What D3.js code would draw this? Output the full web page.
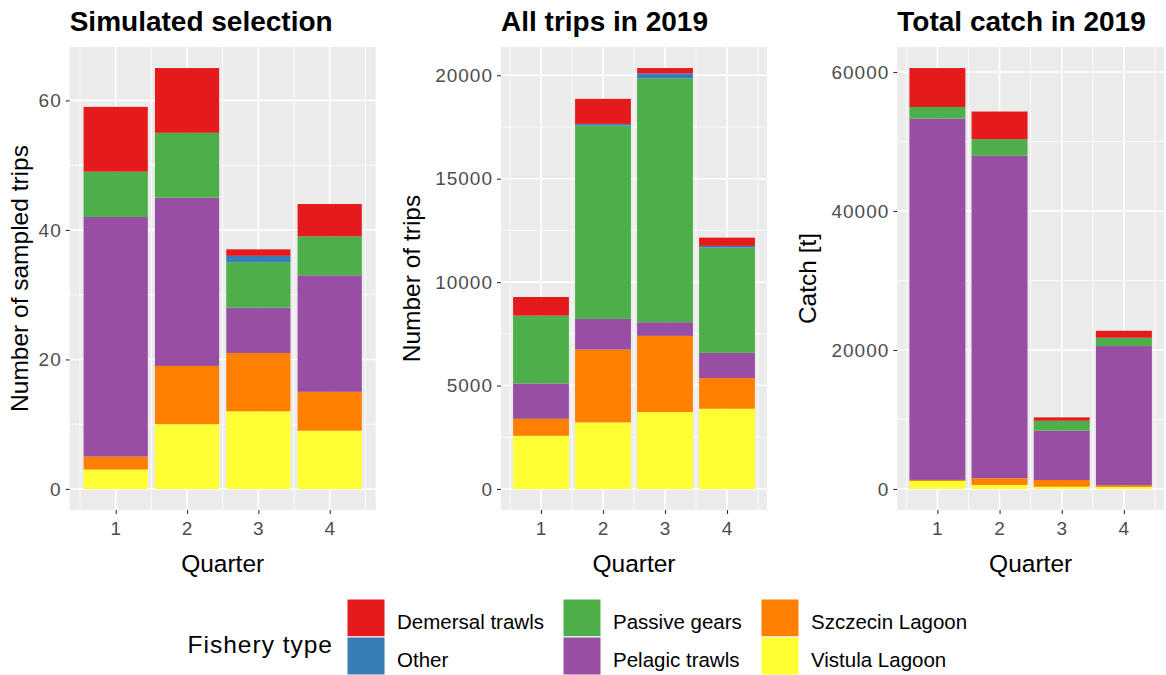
<!DOCTYPE html>
<html>
<head>
<meta charset="utf-8">
<script src="https://cdn.jsdelivr.net/npm/d3@7"></script>
<style>
  html, body { margin: 0; padding: 0; background: #ffffff; }
  svg { display: block; font-family: "Liberation Sans", Arial, sans-serif; }
</style>
</head>
<body>
<svg id="chart" width="1166" height="675"></svg>
<script>
// ---- data ----
const quarters = [1, 2, 3, 4];
// stacking order bottom -> top
const fisheryTypes = ["Vistula Lagoon", "Szczecin Lagoon", "Pelagic trawls", "Passive gears", "Other", "Demersal trawls"];
const legendOrder = ["Demersal trawls", "Other", "Passive gears", "Pelagic trawls", "Szczecin Lagoon", "Vistula Lagoon"];
const typeColors = ["#FFFF33", "#FF7F00", "#984EA3", "#4DAF4A", "#377EB8", "#E41A1C"];

// Simulated selection (number of sampled trips) per quarter
const sampledVistula  = [3, 10, 12, 9];
const sampledSzczecin = [2, 9, 9, 6];
const sampledPelagic  = [37, 26, 7, 18];
const sampledPassive  = [7, 10, 7, 6];
const sampledOther    = [0, 0, 1, 0];
const sampledDemersal = [10, 10, 1, 5];

// All trips in 2019
const tripsVistula  = [2570, 3220, 3720, 3880];
const tripsSzczecin = [820, 3520, 3680, 1480];
const tripsPelagic  = [1710, 1480, 660, 1220];
const tripsPassive  = [3280, 9350, 11790, 5090];
const tripsOther    = [0, 80, 240, 80];
const tripsDemersal = [900, 1210, 260, 400];

// Total catch in 2019 [t]
const catchVistula  = [1150, 580, 330, 290];
const catchSzczecin = [150, 960, 960, 240];
const catchPelagic  = [52000, 46400, 7090, 20030];
const catchPassive  = [1670, 2390, 1440, 1200];
const catchOther    = [0, 0, 0, 0];
const catchDemersal = [5600, 3980, 480, 1000];

const panelTitles = ["Simulated selection", "All trips in 2019", "Total catch in 2019"];
const yTitles = ["Number of sampled trips", "Number of trips", "Catch [t]"];
const xTitle = "Quarter";
const legendTitle = "Fishery type";
const yTicks1 = [0, 20, 40, 60];
const yTicks2 = [0, 5000, 10000, 15000, 20000];
const yTicks3 = [0, 20000, 40000, 60000];

function buildRows(series) {
  return quarters.map((q, i) => {
    const row = { quarter: q };
    fisheryTypes.forEach((t, k) => { row[t] = series[k][i]; });
    return row;
  });
}

const panels = [
  { title: panelTitles[0], yTitle: yTitles[0], ticks: yTicks1,
    rows: buildRows([sampledVistula, sampledSzczecin, sampledPelagic, sampledPassive, sampledOther, sampledDemersal]),
    left: 69.7, right: 375.7, yTitleX: 28 },
  { title: panelTitles[1], yTitle: yTitles[1], ticks: yTicks2,
    rows: buildRows([tripsVistula, tripsSzczecin, tripsPelagic, tripsPassive, tripsOther, tripsDemersal]),
    left: 501, right: 767, yTitleX: 420 },
  { title: panelTitles[2], yTitle: yTitles[2], ticks: yTicks3,
    rows: buildRows([catchVistula, catchSzczecin, catchPelagic, catchPassive, catchOther, catchDemersal]),
    left: 897.3, right: 1164, yTitleX: 816 }
];

const svg = d3.select("#chart");
const plotTop = 47, plotBottom = 510;
const color = d3.scaleOrdinal().domain(fisheryTypes).range(typeColors);
const stack = d3.stack().keys(fisheryTypes);
const barWidth = 0.9;

panels.forEach(p => {
  const series = stack(p.rows);
  const maxTotal = d3.max(p.rows, r => d3.sum(fisheryTypes, t => r[t]));
  const yPad = maxTotal * 0.05;
  const y = d3.scaleLinear().domain([-yPad, maxTotal + yPad]).range([plotBottom, plotTop]);
  const xmin = 1 - barWidth / 2, xmax = 4 + barWidth / 2;
  const xPad = (xmax - xmin) * 0.05;
  const x = d3.scaleLinear().domain([xmin - xPad, xmax + xPad]).range([p.left, p.right]);

  const g = svg.append("g");
  g.append("rect").attr("x", p.left).attr("y", plotTop)
    .attr("width", p.right - p.left).attr("height", plotBottom - plotTop).attr("fill", "#EBEBEB");

  // minor grid
  const step = p.ticks[1] - p.ticks[0];
  const minorY = p.ticks.map(t => t + step / 2).filter(v => y(v) > plotTop);
  g.selectAll(".ymin").data(minorY).join("line")
    .attr("x1", p.left).attr("x2", p.right).attr("y1", d => y(d)).attr("y2", d => y(d))
    .attr("stroke", "#ffffff").attr("stroke-width", 0.8);
  const minorX = [0.5, 1.5, 2.5, 3.5, 4.5];
  g.selectAll(".xmin").data(minorX).join("line")
    .attr("y1", plotTop).attr("y2", plotBottom).attr("x1", d => x(d)).attr("x2", d => x(d))
    .attr("stroke", "#ffffff").attr("stroke-width", 0.8);
  // major grid
  g.selectAll(".ymaj").data(p.ticks).join("line")
    .attr("x1", p.left).attr("x2", p.right).attr("y1", d => y(d)).attr("y2", d => y(d))
    .attr("stroke", "#ffffff").attr("stroke-width", 1.6);
  g.selectAll(".xmaj").data(quarters).join("line")
    .attr("y1", plotTop).attr("y2", plotBottom).attr("x1", d => x(d)).attr("x2", d => x(d))
    .attr("stroke", "#ffffff").attr("stroke-width", 1.6);

  // bars
  series.forEach(s => {
    g.append("g").attr("fill", color(s.key))
      .selectAll("rect").data(s).join("rect")
      .attr("x", d => x(d.data.quarter - barWidth / 2))
      .attr("width", d => x(barWidth) - x(0))
      .attr("y", d => y(d[1]))
      .attr("height", d => Math.max(0, y(d[0]) - y(d[1])));
  });

  // axes
  const yAxis = d3.axisLeft(y).tickValues(p.ticks).tickSize(4).tickPadding(4).tickFormat(d3.format("d"));
  const ya = g.append("g").attr("transform", `translate(${p.left},0)`).call(yAxis);
  const xAxis = d3.axisBottom(x).tickValues(quarters).tickSize(4).tickPadding(8).tickFormat(d3.format("d"));
  const xa = g.append("g").attr("transform", `translate(0,${plotBottom})`).call(xAxis);
  [ya, xa].forEach(a => {
    a.select(".domain").remove();
    a.selectAll(".tick line").attr("stroke", "#333333").attr("stroke-width", 1.1);
    a.selectAll(".tick text").attr("fill", "#4D4D4D").style("font-size", "19px")
      .style("letter-spacing", "1px")
      .style("font-family", "'Liberation Sans', Arial, sans-serif");
  });

  // titles
  g.append("text").attr("x", p.left).attr("y", 31).text(p.title)
    .style("font-size", "28px").style("font-weight", "bold").attr("fill", "#000");
  g.append("text").attr("x", (p.left + p.right) / 2).attr("y", 572).attr("text-anchor", "middle")
    .text(xTitle).style("font-size", "24.5px").attr("fill", "#000");
  g.append("text").attr("transform", `translate(${p.yTitleX},${(plotTop + plotBottom) / 2}) rotate(-90)`)
    .attr("text-anchor", "middle").text(p.yTitle).style("font-size", "24.5px").attr("fill", "#000");
});

// legend
const lg = svg.append("g");
lg.append("text").attr("x", 333).attr("y", 653).attr("text-anchor", "end")
  .text(legendTitle).style("font-size", "24.5px").style("letter-spacing", "1px").attr("fill", "#000");
const colX = [347, 563, 761];
const rowY = [599, 637];
legendOrder.forEach((t, i) => {
  const c = Math.floor(i / 2), r = i % 2;
  lg.append("rect").attr("x", colX[c]).attr("y", rowY[r]).attr("width", 38).attr("height", 38)
    .attr("fill", color(t)).attr("stroke", "#ffffff").attr("stroke-width", 1);
  lg.append("text").attr("x", colX[c] + 50).attr("y", rowY[r] + 30)
    .text(t).style("font-size", "20.5px").attr("fill", "#000");
});
</script>
</body>
</html>
